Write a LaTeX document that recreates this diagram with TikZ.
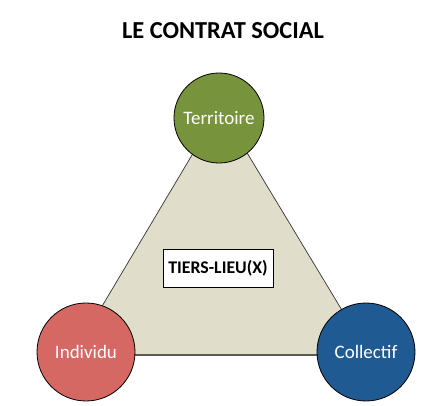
\documentclass[tikz,border=0pt]{standalone}
\usepackage{fontspec}
\setmainfont{Carlito}
\usepackage{tikz}
\definecolor{fondcolor}{RGB}{224,222,202}
\definecolor{vertcolor}{RGB}{119,147,60}
\definecolor{rougecolor}{RGB}{214,104,100}
\definecolor{bleucolor}{RGB}{31,90,147}

\begin{document}
\begin{tikzpicture}[x=1pt,y=-1pt]
		\tikzstyle{pole}=[circle,draw=black,line width=0.8pt,minimum size=90pt,inner sep=0pt,text=white,font=\fontsize{19}{21}\selectfont]
		\tikzstyle{territoire pole}=[pole, fill=vertcolor];
		\tikzstyle{individu pole}=[pole, fill=rougecolor, minimum size=98pt];
		\tikzstyle{collectif pole}=[pole, fill=bleucolor, minimum size=98pt];
		\tikzstyle{annot} = [draw=black,fill=white,line width=0.8pt,minimum width=110pt,minimum height=38pt,font=\bfseries\fontsize{17.8}{20}\selectfont]
		
		\useasboundingbox (0,0) rectangle (429,406);
		
		% Draw the title
		\node[font=\bfseries\fontsize{24.4}{27}\selectfont] (titre) at (223,31) {LE CONTRAT SOCIAL};
		
		% Draw the triangle behind the circles
		\coordinate (sommet) at (220,108);
		\coordinate (gauche) at (73,355);
		\coordinate (droite) at (369,355);
		\fill[fondcolor] (sommet) -- (gauche) -- (droite) -- cycle;
		\draw[black!80,line width=0.7pt] (gauche) -- (sommet) -- (droite);
		\draw[black!65,line width=1.6pt] (gauche) -- (droite);
		
		% Draw the three poles
		\node[territoire pole] (territoire) at (219,118) {Territoire};
		\node[individu pole] (individu) at (86,352) {Individu};
		\node[collectif pole] (collectif) at (366,352) {Collectif};
		
		% Annotate the middle
		\node[annot] (tiers) at (218,268) {TIERS-LIEU(X)};
	\end{tikzpicture}
\end{document}
